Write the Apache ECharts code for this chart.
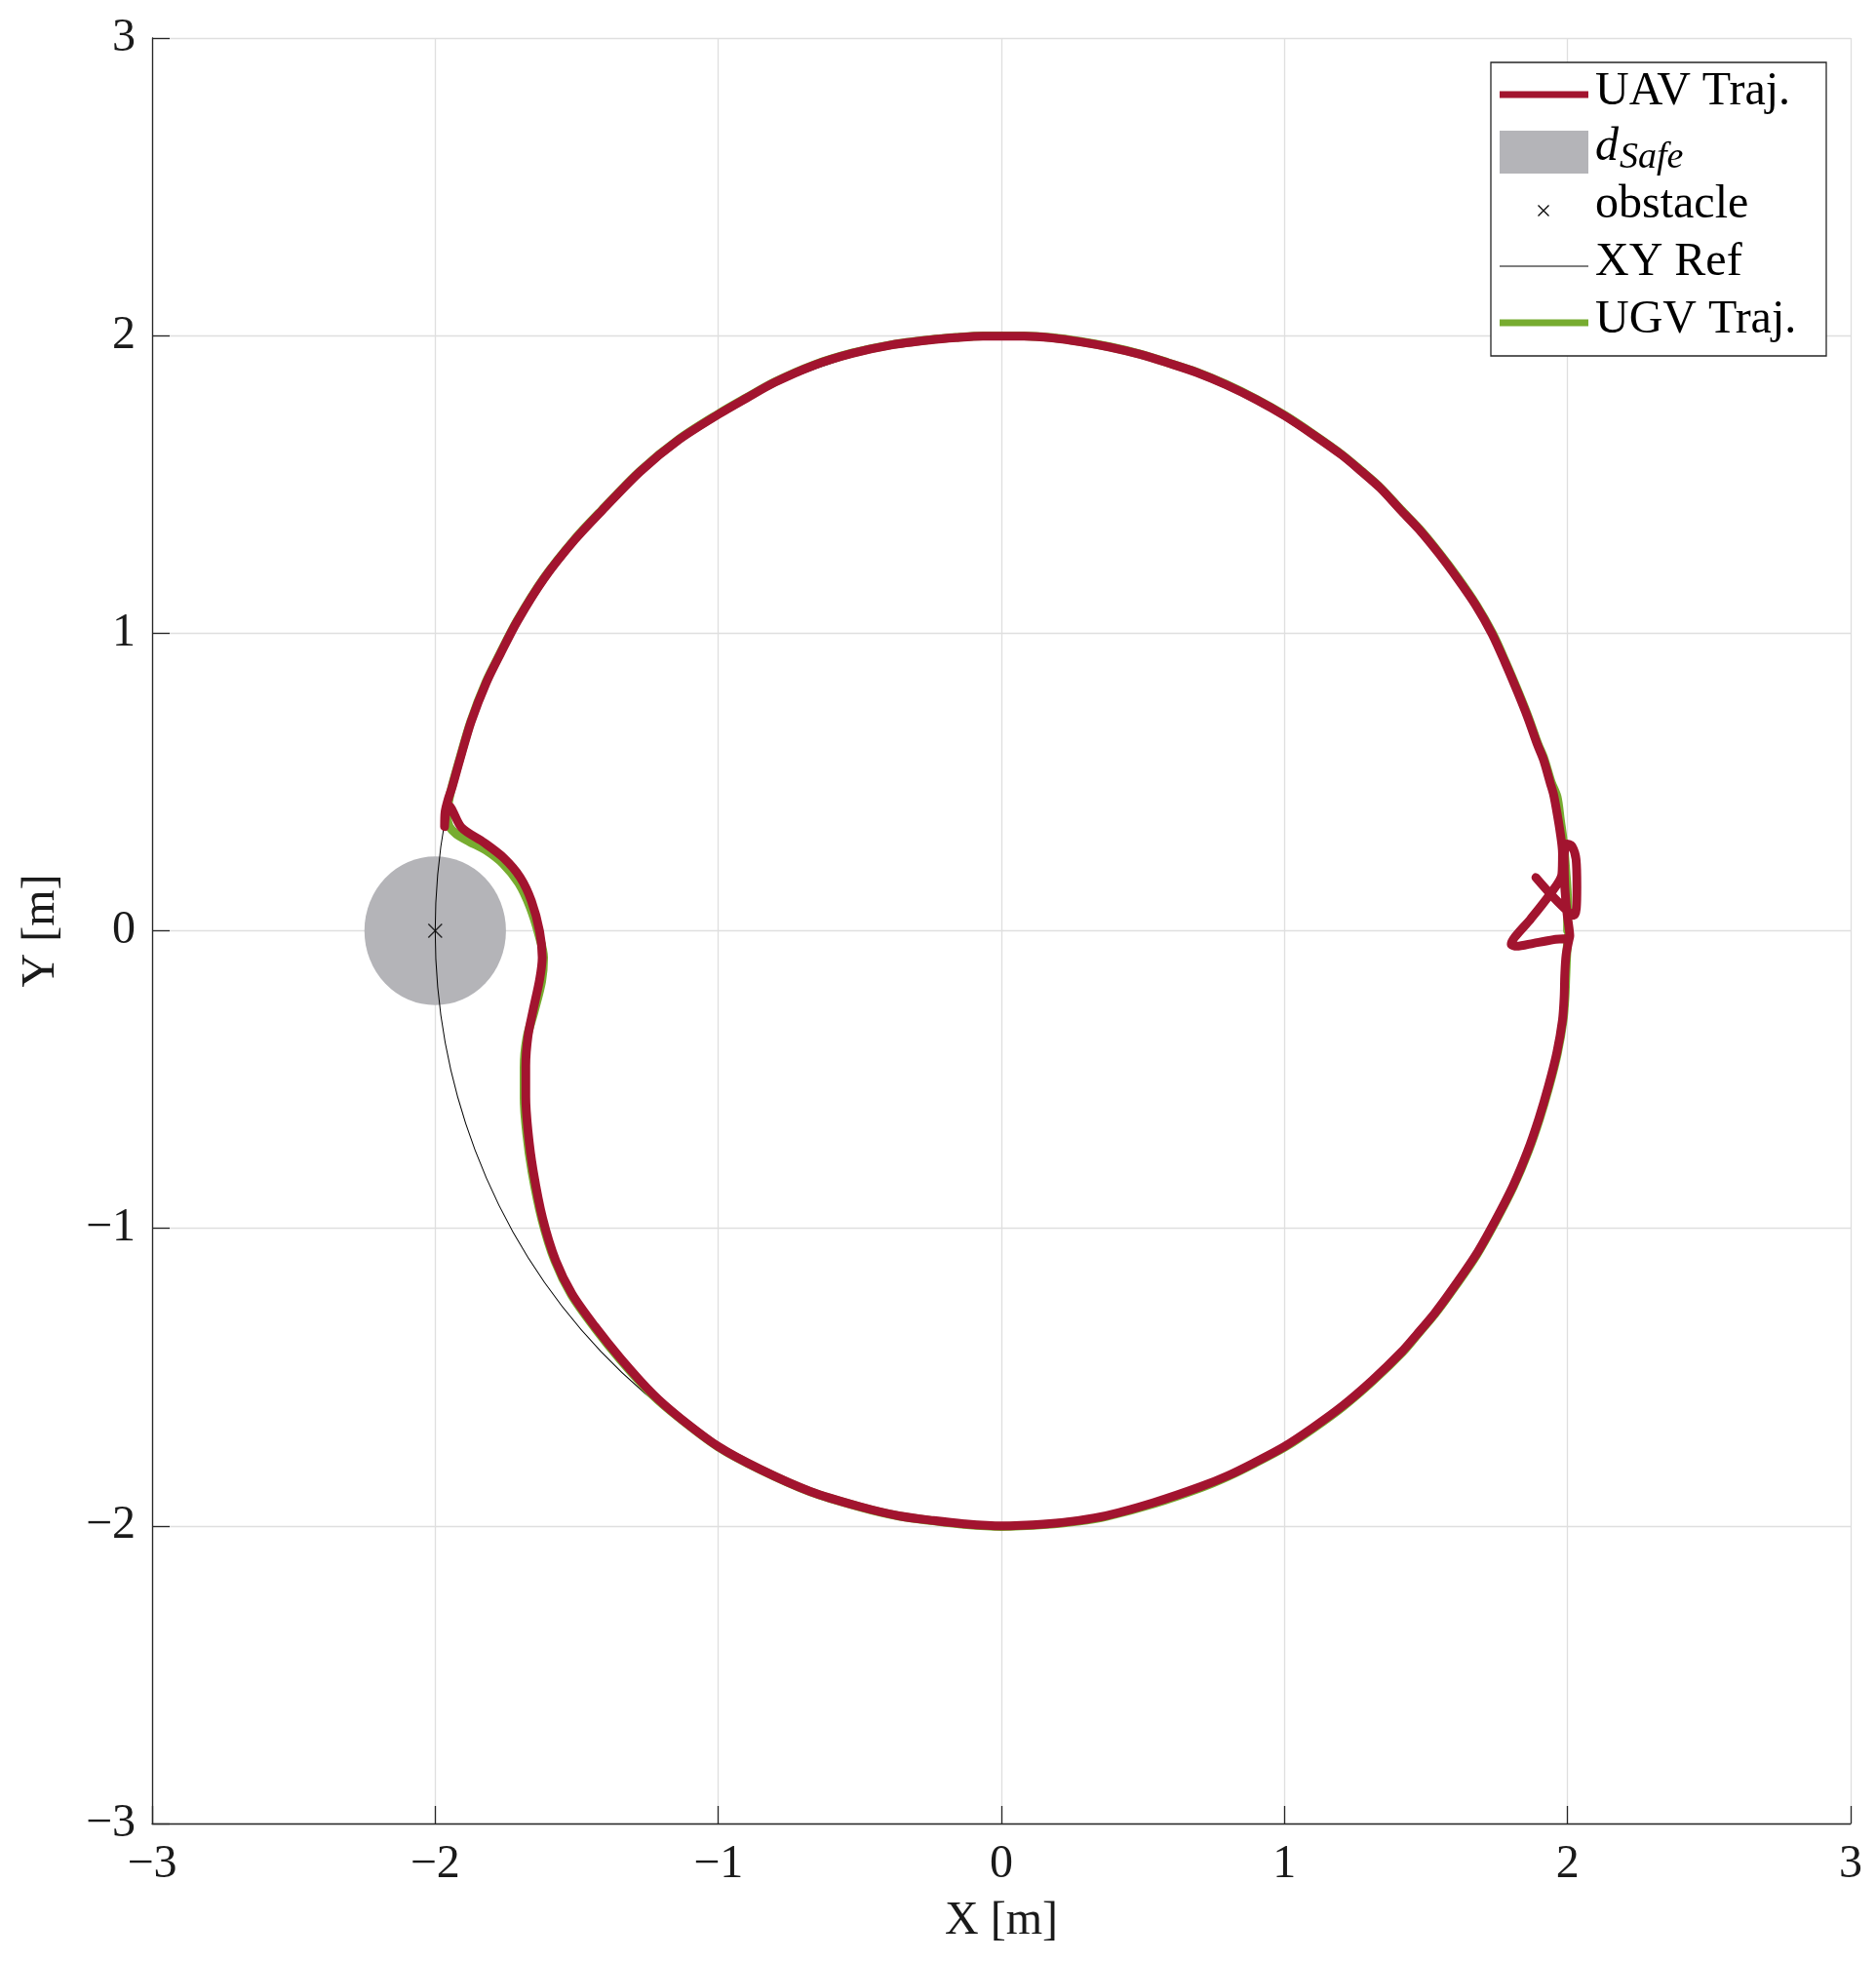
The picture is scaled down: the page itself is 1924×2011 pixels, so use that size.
<!DOCTYPE html>
<html>
<head>
<meta charset="utf-8">
<title>UAV / UGV trajectory</title>
<script src="https://cdn.jsdelivr.net/npm/echarts@6/dist/echarts.min.js"></script>
<style>
    html, body { margin: 0; padding: 0; background: #fff; }
    #main { width: 1924px; height: 2011px; }
</style>
</head>
<body>
<div id="main"></div>
<script>
// ticks for both axes
let tick_values = [-3, -2, -1, 0, 1, 2, 3];

// obstacle position and safe distance radius [x, y, r]
let obstacle = [-2, 0];
let d_safe = [-2, 0, 0.25];
// reference circle [cx, cy, r]
let xy_ref = [0, 0, 2];

// UAV trajectory
let uav_traj = [
    [1.888, 0.179], [1.939, 0.124], [1.990, 0.075], [2.022, 0.052], [2.031, 0.075],
    [2.033, 0.150], [2.030, 0.240], [2.015, 0.285], [1.998, 0.292], [1.988, 0.250],
    [1.990, 0.150], [1.998, 0.060], [2.008, -0.018], [1.950, -0.030], [1.880, -0.042],
    [1.820, -0.052], [1.801, -0.045], [1.815, -0.020], [1.870, 0.040], [1.939, 0.124],
    [1.980, 0.190], [1.982, 0.260], [1.974, 0.330], [1.962, 0.400], [1.950, 0.460],
    [1.939, 0.496], [1.915, 0.575], [1.893, 0.627], [1.860, 0.715], [1.824, 0.801],
    [1.780, 0.900], [1.733, 0.998], [1.675, 1.095], [1.610, 1.185], [1.545, 1.268],
    [1.474, 1.350], [1.410, 1.414], [1.338, 1.488], [1.270, 1.545], [1.202, 1.599],
    [1.100, 1.668], [1.000, 1.731], [0.900, 1.785], [0.793, 1.835], [0.690, 1.876],
    [0.589, 1.908], [0.490, 1.937], [0.384, 1.961], [0.280, 1.979], [0.180, 1.992],
    [0.080, 1.998], [0.000, 1.998], [-0.064, 1.998], [-0.160, 1.993], [-0.254, 1.985],
    [-0.390, 1.968], [-0.527, 1.940], [-0.663, 1.900], [-0.800, 1.843], [-0.900, 1.790],
    [-1.000, 1.735], [-1.139, 1.650], [-1.275, 1.544], [-1.410, 1.413], [-1.506, 1.315],
    [-1.615, 1.184], [-1.710, 1.040], [-1.770, 0.930], [-1.819, 0.835], [-1.873, 0.703],
    [-1.914, 0.571], [-1.941, 0.480], [-1.955, 0.440], [-1.965, 0.400], [-1.967, 0.350],
    [-1.962, 0.400], [-1.953, 0.420], [-1.907, 0.347], [-1.827, 0.296], [-1.758, 0.245],
    [-1.700, 0.180], [-1.660, 0.100], [-1.631, -0.003], [-1.622, -0.090], [-1.631, -0.163],
    [-1.654, -0.266], [-1.672, -0.353], [-1.680, -0.455], [-1.680, -0.558], [-1.672, -0.674],
    [-1.654, -0.805], [-1.620, -0.968], [-1.574, -1.109], [-1.517, -1.220], [-1.436, -1.329],
    [-1.344, -1.438], [-1.230, -1.558], [-1.138, -1.635], [-1.000, -1.733], [-0.851, -1.810],
    [-0.675, -1.884], [-0.500, -1.935], [-0.362, -1.966], [-0.240, -1.982], [-0.132, -1.993],
    [0.000, -2.000], [0.161, -1.993], [0.270, -1.982], [0.370, -1.966], [0.537, -1.922],
    [0.704, -1.868], [0.800, -1.831], [0.892, -1.788], [1.000, -1.733], [1.100, -1.670],
    [1.206, -1.596], [1.310, -1.511], [1.415, -1.414], [1.468, -1.356], [1.530, -1.286],
    [1.583, -1.218], [1.675, -1.091], [1.744, -0.975], [1.807, -0.858], [1.859, -0.740],
    [1.899, -0.630], [1.933, -0.520], [1.962, -0.410], [1.982, -0.300], [1.988, -0.220],
    [1.990, -0.149], [1.995, -0.080], [2.008, -0.018]
];

// UGV trajectory (mostly hidden below the UAV one)
let ugv_traj = [
    [2.000, 0.000], [2.000, 0.100], [1.994, 0.200], [1.985, 0.300], [1.975, 0.370],
    [1.963, 0.450], [1.942, 0.500], [1.917, 0.578], [1.895, 0.628], [1.862, 0.716],
    [1.826, 0.802], [1.782, 0.901], [1.735, 0.999], [1.677, 1.096], [1.612, 1.187],
    [1.547, 1.269], [1.476, 1.351], [1.411, 1.415], [1.339, 1.489], [1.271, 1.546],
    [1.203, 1.600], [1.101, 1.669], [1.001, 1.732], [0.901, 1.786], [0.794, 1.836],
    [0.691, 1.877], [0.589, 1.909], [0.490, 1.938], [0.384, 1.962], [0.280, 1.980],
    [0.180, 1.993], [0.080, 1.999], [0.000, 1.999], [-0.064, 1.999], [-0.160, 1.994],
    [-0.254, 1.986], [-0.390, 1.969], [-0.528, 1.941], [-0.664, 1.901], [-0.801, 1.844],
    [-0.901, 1.791], [-1.001, 1.736], [-1.140, 1.651], [-1.276, 1.545], [-1.411, 1.414],
    [-1.507, 1.316], [-1.616, 1.185], [-1.711, 1.041], [-1.771, 0.931], [-1.820, 0.837],
    [-1.874, 0.704], [-1.915, 0.572], [-1.942, 0.480], [-1.955, 0.420], [-1.957, 0.380],
    [-1.950, 0.350], [-1.925, 0.325], [-1.880, 0.300], [-1.820, 0.270], [-1.760, 0.225],
    [-1.705, 0.160], [-1.665, 0.080], [-1.635, -0.010], [-1.617, -0.090], [-1.624, -0.170],
    [-1.650, -0.270], [-1.676, -0.360], [-1.686, -0.460], [-1.686, -0.560], [-1.677, -0.680],
    [-1.658, -0.810], [-1.623, -0.970], [-1.577, -1.110], [-1.519, -1.223], [-1.438, -1.332],
    [-1.346, -1.441], [-1.232, -1.560], [-1.139, -1.636], [-1.001, -1.734], [-0.851, -1.811],
    [-0.675, -1.885], [-0.500, -1.936], [-0.362, -1.967], [-0.240, -1.983], [-0.132, -1.995],
    [0.000, -2.002], [0.161, -1.995], [0.270, -1.984], [0.371, -1.968], [0.539, -1.925],
    [0.706, -1.871], [0.802, -1.833], [0.894, -1.790], [1.002, -1.735], [1.102, -1.672],
    [1.208, -1.598], [1.312, -1.513], [1.417, -1.416], [1.470, -1.357], [1.532, -1.287],
    [1.585, -1.219], [1.677, -1.092], [1.746, -0.976], [1.809, -0.859], [1.861, -0.742],
    [1.901, -0.632], [1.935, -0.522], [1.964, -0.412], [1.984, -0.302], [1.991, -0.220],
    [1.994, -0.149], [1.997, -0.080], [2.002, -0.018]
];

let font_name = '"Liberation Serif", "DejaVu Serif", serif';
let text_color = '#1a1a1a';
let uav_color = '#A2142F';
let ugv_color = '#77AC30';
let safe_color = '#b4b4b8';

function fmt_tick(v) {
    return v < 0 ? '\u2212' + Math.abs(v) : String(v);
}

// draws a circle given in data units (axes are not equal so it becomes an ellipse)
function circle_item(fill, stroke, lw) {
    return function (params, api) {
        let c = api.coord([api.value(0), api.value(1)]);
        let s = api.size([api.value(2), api.value(2)]);
        return {
            type: 'circle',
            x: c[0],
            y: c[1],
            scaleY: s[1] / s[0],
            shape: { cx: 0, cy: 0, r: s[0] },
            style: { fill: fill, stroke: stroke, lineWidth: lw, strokeNoScale: true }
        };
    };
}

let x_mark = 'path://M0,0L10,10M10,0L0,10';

// legend box drawn by hand (MATLAB style)
let lg_x = 1529, lg_y = 64, lg_w = 344, lg_h = 301;
let icon_x0 = 1538, icon_x1 = 1629, txt_x = 1636;
let mx = 1583, my = 216, mh = 5.5;
let legend_graphic = [
    { type: 'rect', shape: { x: lg_x, y: lg_y, width: lg_w, height: lg_h },
      style: { fill: '#fff', stroke: '#262626', lineWidth: 1.3 }, z: 100 },
    { type: 'line', shape: { x1: icon_x0, y1: 97, x2: icon_x1, y2: 97 },
      style: { stroke: uav_color, lineWidth: 7 }, z: 101 },
    { type: 'text', x: txt_x, y: 94, style: { text: 'UAV Traj.', font: '48px ' + font_name,
      fill: '#000', verticalAlign: 'middle' }, z: 101 },
    { type: 'rect', shape: { x: icon_x0, y: 134, width: 91, height: 44 },
      style: { fill: safe_color }, z: 101 },
    { type: 'text', x: txt_x, y: 151, style: { text: 'd', font: 'italic 48px ' + font_name,
      fill: '#000', verticalAlign: 'middle' }, z: 101 },
    { type: 'text', x: txt_x + 25, y: 162, style: { text: 'Safe', font: 'italic 38px ' + font_name,
      fill: '#000', verticalAlign: 'middle' }, z: 101 },
    { type: 'line', shape: { x1: mx - mh, y1: my - mh, x2: mx + mh, y2: my + mh },
      style: { stroke: '#000', lineWidth: 1.2 }, z: 101 },
    { type: 'line', shape: { x1: mx + mh, y1: my - mh, x2: mx - mh, y2: my + mh },
      style: { stroke: '#000', lineWidth: 1.2 }, z: 101 },
    { type: 'text', x: txt_x, y: 210, style: { text: 'obstacle', font: '48px ' + font_name,
      fill: '#000', verticalAlign: 'middle' }, z: 101 },
    { type: 'line', shape: { x1: icon_x0, y1: 273, x2: icon_x1, y2: 273 },
      style: { stroke: '#000', lineWidth: 1 }, z: 101 },
    { type: 'text', x: txt_x, y: 269, style: { text: 'XY Ref', font: '48px ' + font_name,
      fill: '#000', verticalAlign: 'middle' }, z: 101 },
    { type: 'line', shape: { x1: icon_x0, y1: 331, x2: icon_x1, y2: 331 },
      style: { stroke: ugv_color, lineWidth: 7 }, z: 101 },
    { type: 'text', x: txt_x, y: 328, style: { text: 'UGV Traj.', font: '48px ' + font_name,
      fill: '#000', verticalAlign: 'middle' }, z: 101 }
];

let chart = echarts.init(document.getElementById('main'), null, { renderer: 'canvas' });

let axis_common = {
    type: 'value',
    min: tick_values[0],
    max: tick_values[tick_values.length - 1],
    interval: 1,
    nameLocation: 'middle',
    nameTextStyle: { fontFamily: font_name, fontSize: 48, color: text_color },
    axisLine: { show: true, onZero: false, lineStyle: { color: '#262626', width: 1.3 } },
    axisTick: { show: true, inside: true, length: 18, lineStyle: { color: '#262626', width: 1.3 } },
    axisLabel: { fontFamily: font_name, fontSize: 48, color: text_color, formatter: fmt_tick },
    splitLine: { show: true, showMinLine: true, showMaxLine: true,
                 lineStyle: { color: '#dfdfdf', width: 1.3 } }
};

let option = {
    animation: false,
    backgroundColor: '#fff',
    grid: { left: 156, top: 39, right: 26, bottom: 141, containLabel: false },
    xAxis: Object.assign({}, axis_common, {
        name: 'X [m]',
        nameGap: 76,
        axisLabel: Object.assign({}, axis_common.axisLabel, { margin: 18 })
    }),
    yAxis: Object.assign({}, axis_common, {
        name: 'Y [m]',
        nameGap: 90,
        nameRotate: 90,
        axisLabel: Object.assign({}, axis_common.axisLabel, { margin: 17 })
    }),
    graphic: { elements: legend_graphic },
    series: [
        {
            name: 'd_Safe',
            type: 'custom',
            z: 1,
            silent: true,
            renderItem: circle_item(safe_color, null, 0),
            encode: { x: 0, y: 1 },
            data: [d_safe]
        },
        {
            name: 'XY Ref',
            type: 'custom',
            z: 2,
            silent: true,
            renderItem: circle_item(null, '#000', 1),
            encode: { x: 0, y: 1 },
            data: [xy_ref]
        },
        {
            name: 'obstacle',
            type: 'scatter',
            z: 3,
            symbol: x_mark,
            symbolSize: 14,
            itemStyle: { color: 'none', borderColor: '#000', borderWidth: 1.4 },
            data: [obstacle]
        },
        {
            name: 'UGV Traj.',
            type: 'line',
            z: 4,
            showSymbol: false,
            smooth: 0.3,
            lineStyle: { color: ugv_color, width: 9, cap: 'round', join: 'round' },
            data: ugv_traj
        },
        {
            name: 'UAV Traj.',
            type: 'line',
            z: 5,
            showSymbol: false,
            smooth: 0.3,
            lineStyle: { color: uav_color, width: 9, cap: 'round', join: 'round' },
            data: uav_traj
        }
    ]
};

chart.setOption(option);
</script>
</body>
</html>
